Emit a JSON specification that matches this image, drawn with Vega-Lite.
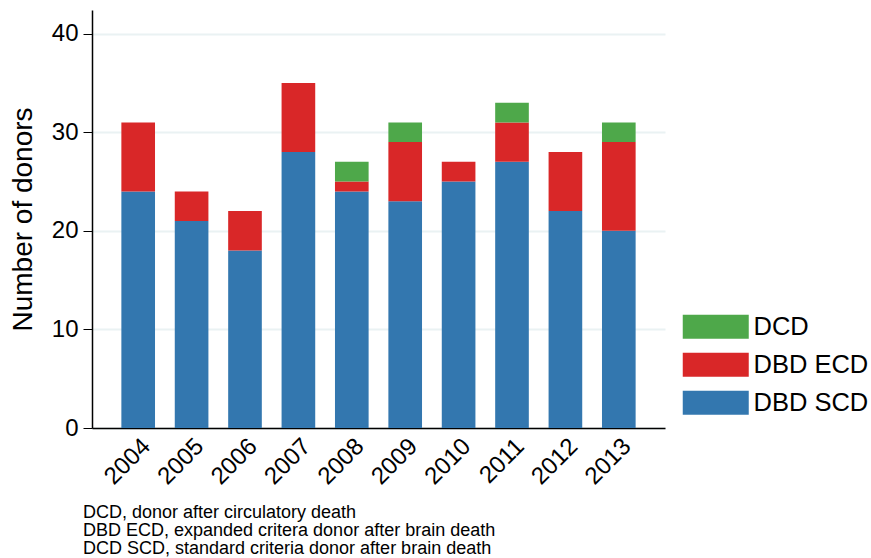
{
  "$schema": "https://vega.github.io/schema/vega-lite/v6.json",
  "width": 573,
  "height": 418,
  "autosize": {"type": "none"},
  "padding": {"left": 92, "top": 10, "right": 206, "bottom": 130},
  "background": "white",
  "config": {
    "font": "Liberation Sans",
    "view": {"stroke": null},
    "axis": {"labelFont": "Liberation Sans", "titleFont": "Liberation Sans", "labelColor": "black", "titleColor": "black"}
  },
  "title": {
    "text": ["DCD, donor after circulatory death", "DBD ECD, expanded critera donor after brain death", "DCD SCD, standard criteria donor after brain death"],
    "orient": "bottom",
    "anchor": "start",
    "frame": "group",
    "fontSize": 18,
    "fontWeight": "normal",
    "lineHeight": 18,
    "color": "black",
    "dx": -9,
    "offset": 15
  },
  "data": {
    "values": [
      {"year": "2004", "type": "DBD SCD", "n": 24, "ord": 1},
      {"year": "2004", "type": "DBD ECD", "n": 7, "ord": 2},
      {"year": "2004", "type": "DCD", "n": 0, "ord": 3},
      {"year": "2005", "type": "DBD SCD", "n": 21, "ord": 1},
      {"year": "2005", "type": "DBD ECD", "n": 3, "ord": 2},
      {"year": "2005", "type": "DCD", "n": 0, "ord": 3},
      {"year": "2006", "type": "DBD SCD", "n": 18, "ord": 1},
      {"year": "2006", "type": "DBD ECD", "n": 4, "ord": 2},
      {"year": "2006", "type": "DCD", "n": 0, "ord": 3},
      {"year": "2007", "type": "DBD SCD", "n": 28, "ord": 1},
      {"year": "2007", "type": "DBD ECD", "n": 7, "ord": 2},
      {"year": "2007", "type": "DCD", "n": 0, "ord": 3},
      {"year": "2008", "type": "DBD SCD", "n": 24, "ord": 1},
      {"year": "2008", "type": "DBD ECD", "n": 1, "ord": 2},
      {"year": "2008", "type": "DCD", "n": 2, "ord": 3},
      {"year": "2009", "type": "DBD SCD", "n": 23, "ord": 1},
      {"year": "2009", "type": "DBD ECD", "n": 6, "ord": 2},
      {"year": "2009", "type": "DCD", "n": 2, "ord": 3},
      {"year": "2010", "type": "DBD SCD", "n": 25, "ord": 1},
      {"year": "2010", "type": "DBD ECD", "n": 2, "ord": 2},
      {"year": "2010", "type": "DCD", "n": 0, "ord": 3},
      {"year": "2011", "type": "DBD SCD", "n": 27, "ord": 1},
      {"year": "2011", "type": "DBD ECD", "n": 4, "ord": 2},
      {"year": "2011", "type": "DCD", "n": 2, "ord": 3},
      {"year": "2012", "type": "DBD SCD", "n": 22, "ord": 1},
      {"year": "2012", "type": "DBD ECD", "n": 6, "ord": 2},
      {"year": "2012", "type": "DCD", "n": 0, "ord": 3},
      {"year": "2013", "type": "DBD SCD", "n": 20, "ord": 1},
      {"year": "2013", "type": "DBD ECD", "n": 9, "ord": 2},
      {"year": "2013", "type": "DCD", "n": 2, "ord": 3}
    ]
  },
  "mark": {"type": "bar", "stroke": null},
  "encoding": {
    "x": {
      "field": "year",
      "type": "ordinal",
      "scale": {"paddingInner": 0.37, "paddingOuter": 0.55},
      "axis": {
        "title": null,
        "labelAngle": -45,
        "labelFontSize": 24,
        "labelPadding": 6,
        "ticks": false,
        "domainColor": "black",
        "domainWidth": 1.5,
        "grid": false
      }
    },
    "y": {
      "field": "n",
      "type": "quantitative",
      "stack": "zero",
      "scale": {"domain": [0, 42.4], "nice": false},
      "axis": {
        "title": "Number of donors",
        "titleFontSize": 28,
        "titleFontWeight": "normal",
        "titlePadding": 14,
        "values": [0, 10, 20, 30, 40],
        "labelFontSize": 24,
        "labelPadding": 5,
        "tickSize": 9,
        "tickColor": "black",
        "domainColor": "black",
        "domainWidth": 1.5,
        "gridColor": "#eaf2f3",
        "gridWidth": 2
      }
    },
    "color": {
      "field": "type",
      "type": "nominal",
      "scale": {"domain": ["DCD", "DBD ECD", "DBD SCD"], "range": ["#4ea84a", "#d92728", "#3377af"]},
      "legend": {
        "title": null,
        "orient": "none",
        "legendX": 611,
        "legendY": 304,
        "symbolType": "M-2.75,-1H2.75V1H-2.75Z",
        "symbolSize": 576,
        "symbolStrokeWidth": 0,
        "labelFontSize": 25.5,
        "labelOffset": 25,
        "labelColor": "black",
        "rowPadding": 11,
        "padding": 0
      }
    },
    "order": {"field": "ord", "type": "quantitative"}
  }
}
